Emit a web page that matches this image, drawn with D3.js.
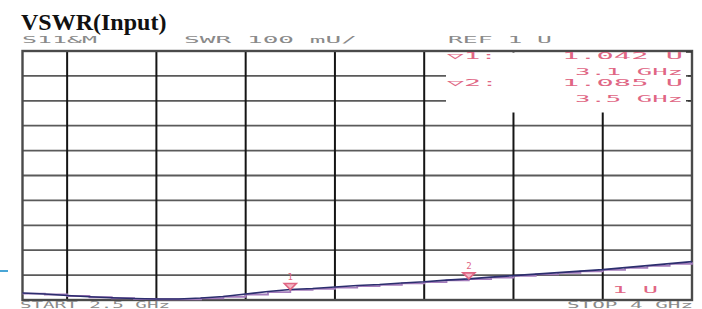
<!DOCTYPE html>
<html>
<head>
<meta charset="utf-8">
<script src="https://cdn.jsdelivr.net/npm/d3@7"></script>
<style>
  html, body { margin: 0; padding: 0; background: #fff; }
  svg { display: block; }
  .mono { font-family: "DejaVu Sans Mono", monospace; }
</style>
</head>
<body>
<svg class="chart"></svg>
<script>
// sweep, GHz
const freqs = [2.50, 2.55, 2.60, 2.65, 2.70, 2.75, 2.80, 2.85, 2.90, 2.95, 3.00,
  3.05, 3.10, 3.15, 3.20, 3.25, 3.30, 3.35, 3.40, 3.45, 3.50,
  3.55, 3.60, 3.65, 3.70, 3.75, 3.80, 3.85, 3.90, 3.95, 4.00];
// SWR, trace 1 (dark) and trace 2 (memory)
const swrMain = [1.028, 1.024, 1.018, 1.013, 1.009, 1.006, 1.004, 1.004, 1.008, 1.014, 1.024,
  1.034, 1.042, 1.046, 1.052, 1.058, 1.062, 1.068, 1.073, 1.080, 1.085,
  1.092, 1.098, 1.104, 1.110, 1.116, 1.122, 1.130, 1.138, 1.146, 1.154];
const swrMem = [1.026, 1.022, 1.016, 1.011, 1.007, 1.004, 1.003, 1.003, 1.007, 1.013, 1.022,
  1.032, 1.041, 1.045, 1.050, 1.056, 1.061, 1.067, 1.072, 1.079, 1.084,
  1.090, 1.097, 1.103, 1.109, 1.115, 1.121, 1.129, 1.137, 1.145, 1.152];
const gridFreqs = [2.6, 2.8, 3.0, 3.2, 3.4, 3.6, 3.8];
const gridSwr = [1.1, 1.2, 1.3, 1.4, 1.5, 1.6, 1.7, 1.8, 1.9];
const markers = [
  { id: '1', f: 3.1, v: 1.042 },
  { id: '2', f: 3.5, v: 1.085 }
];

const width = 702, height = 309;
const svg = d3.select('.chart').attr('width', width).attr('height', height);

const x = d3.scaleLinear().domain([2.5, 4.0]).range([22.5, 692]);
const y = d3.scaleLinear().domain([1.0, 2.0]).range([300, 51]);

const pink = '#e06684';
const inkGray = '#8a8a8a';

// horizontal grid
svg.append('g')
  .selectAll('line')
  .data(gridSwr)
  .join('line')
  .attr('x1', x(2.5)).attr('x2', x(4.0))
  .attr('y1', d => y(d)).attr('y2', d => y(d))
  .attr('stroke', '#5a5a5a')
  .attr('stroke-width', 1.8);

// vertical grid
svg.append('g')
  .selectAll('line')
  .data(gridFreqs)
  .join('line')
  .attr('x1', d => x(d)).attr('x2', d => x(d))
  .attr('y1', y(2.0)).attr('y2', y(1.0))
  .attr('stroke', '#151515')
  .attr('stroke-width', 2);

// marker readout area blanks the grid behind it
svg.append('rect')
  .attr('x', 446).attr('y', 52.5)
  .attr('width', 242).attr('height', 60)
  .attr('fill', '#fff');

// short ticks on the right edge inside readout
svg.append('g')
  .selectAll('line')
  .data([1.9, 1.8])
  .join('line')
  .attr('x1', 686).attr('x2', x(4.0))
  .attr('y1', d => y(d)).attr('y2', d => y(d))
  .attr('stroke', '#333')
  .attr('stroke-width', 1.5);

// frame
svg.append('rect')
  .attr('x', x(2.5)).attr('y', y(2.0))
  .attr('width', x(4.0) - x(2.5)).attr('height', y(1.0) - y(2.0))
  .attr('fill', 'none')
  .attr('stroke', '#4a4a4a')
  .attr('stroke-width', 2.4);
svg.append('line')
  .attr('x1', 686).attr('x2', x(4.0))
  .attr('y1', y(2.0) + 1).attr('y2', y(2.0) + 1)
  .attr('stroke', '#333').attr('stroke-width', 1.5);

// traces
svg.append('path')
  .datum(swrMem)
  .attr('d', d3.line().x((d, i) => x(freqs[i])).y(d => y(d)).curve(d3.curveStepAfter))
  .attr('fill', 'none')
  .attr('stroke', '#a47cbc')
  .attr('stroke-width', 1.8);

svg.append('path')
  .datum(swrMain)
  .attr('d', d3.line().x((d, i) => x(freqs[i])).y(d => y(d)))
  .attr('fill', 'none')
  .attr('stroke', '#2c2e6e')
  .attr('stroke-width', 1.6);

// markers
const mk = svg.append('g')
  .selectAll('g')
  .data(markers)
  .join('g')
  .attr('transform', d => `translate(${x(d.f)},${y(d.v)})`);

mk.append('path')
  .attr('d', 'M-6,-6 L6,-6 L0,0 Z')
  .attr('fill', '#f4b8c6')
  .attr('stroke', pink)
  .attr('stroke-width', 1.6);

mk.append('text')
  .attr('class', 'mono')
  .attr('y', -10)
  .attr('text-anchor', 'middle')
  .attr('font-size', 9)
  .attr('fill', pink)
  .text(d => d.id);

// instrument annotations
function label(txt, x0, base, len, color, size) {
  svg.append('text')
    .attr('class', 'mono')
    .attr('x', x0).attr('y', base)
    .attr('font-size', size || 9)
    .attr('fill', color)
    .attr('textLength', len)
    .attr('lengthAdjust', 'spacingAndGlyphs')
    .text(txt);
}

svg.append('text')
  .attr('x', 21).attr('y', 30)
  .attr('font-family', '"Liberation Serif", "Times New Roman", serif')
  .attr('font-weight', 'bold')
  .attr('font-size', 24)
  .attr('fill', '#111')
  .text('VSWR(Input)');

label('S11&M', 22, 43, 75, inkGray, 9);
label('SWR 100 mU/', 184, 43, 173, inkGray, 9);
label('REF 1 U', 448, 43, 104, inkGray, 9);

label('\u25BD1:', 447, 59, 50, pink, 9);
label('1.042 U', 562, 59, 121, pink, 9);
label('3.1 GHz', 575, 75, 108, pink, 9);
label('\u25BD2:', 447, 86, 51, pink, 9);
label('1.085 U', 562, 86, 121, pink, 9);
label('3.5 GHz', 575, 102, 108, pink, 9);

label('1 U', 612, 293, 46, pink, 9);
label('START 2.5 GHz', 20, 308, 150, inkGray, 8);
label('STOP 4 GHz', 567, 308, 126, inkGray, 8);

// stray cyan tick at far left
svg.append('line')
  .attr('x1', 0).attr('x2', 8)
  .attr('y1', 271).attr('y2', 271)
  .attr('stroke', '#4aa6d6')
  .attr('stroke-width', 2);
</script>
</body>
</html>
